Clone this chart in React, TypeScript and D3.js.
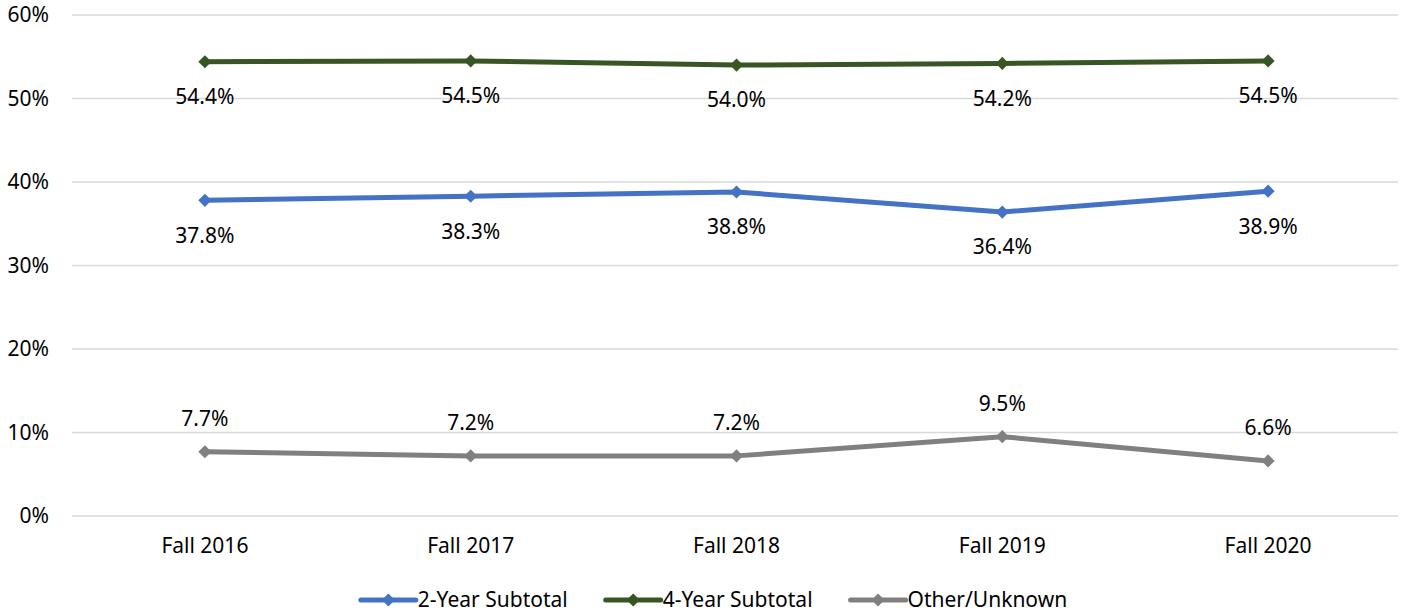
import React, { useRef, useEffect } from "react";
import * as d3 from "d3";

const categories = ["Fall 2016", "Fall 2017", "Fall 2018", "Fall 2019", "Fall 2020"];
const twoYear = [37.8, 38.3, 38.8, 36.4, 38.9];
const fourYear = [54.4, 54.5, 54.0, 54.2, 54.5];
const otherUnknown = [7.7, 7.2, 7.2, 9.5, 6.6];
const yTicks = [0, 10, 20, 30, 40, 50, 60];

const series = [
  { name: "2-Year Subtotal", values: twoYear, color: "#4472C4", labelPos: "below" },
  { name: "4-Year Subtotal", values: fourYear, color: "#375623", labelPos: "below" },
  { name: "Other/Unknown", values: otherUnknown, color: "#808080", labelPos: "above" },
];

const FONT = "'Noto Sans', 'Open Sans', sans-serif";

export default function App() {
  const ref = useRef<SVGSVGElement>(null);

  useEffect(() => {
    if (!ref.current) return;
    const svg = d3.select(ref.current);
    svg.selectAll("*").remove();

    const W = 1405;
    const H = 616;
    const left = 72;
    const right = 1401;
    const top = 15;
    const bottom = 516;

    const x = d3.scaleBand<string>().domain(categories).range([left, right]);
    const cx = (c: string) => x(c)! + x.bandwidth() / 2;
    const y = d3.scaleLinear().domain([0, 60]).range([bottom, top]);

    // gridlines + y labels
    const grid = svg.append("g");
    grid
      .selectAll("line")
      .data(yTicks)
      .enter()
      .append("line")
      .attr("x1", left)
      .attr("x2", right - 3)
      .attr("y1", (d) => y(d))
      .attr("y2", (d) => y(d))
      .attr("stroke", "#D9D9D9")
      .attr("stroke-width", 1.5);
    grid
      .selectAll("text")
      .data(yTicks)
      .enter()
      .append("text")
      .attr("x", 49)
      .attr("y", (d) => y(d))
      .attr("dy", "0.35em")
      .attr("text-anchor", "end")
      .attr("font-family", FONT)
      .attr("font-size", 21)
      .attr("fill", "#000")
      .text((d) => `${d}%`);

    // x labels
    svg
      .append("g")
      .selectAll("text")
      .data(categories)
      .enter()
      .append("text")
      .attr("x", (d) => cx(d))
      .attr("y", 546)
      .attr("dy", "0.35em")
      .attr("text-anchor", "middle")
      .attr("font-family", FONT)
      .attr("font-size", 21)
      .attr("fill", "#000")
      .text((d) => d);

    const line = d3
      .line<number>()
      .x((_, i) => cx(categories[i]))
      .y((d) => y(d));

    const diamond = d3.symbol().type(d3.symbolDiamond2).size(110);

    series.forEach((s) => {
      const g = svg.append("g");
      g.append("path")
        .datum(s.values)
        .attr("d", line)
        .attr("fill", "none")
        .attr("stroke", s.color)
        .attr("stroke-width", 5)
        .attr("stroke-linejoin", "round");
      g.selectAll("path.m")
        .data(s.values)
        .enter()
        .append("path")
        .attr("class", "m")
        .attr("d", diamond)
        .attr("transform", (d, i) => `translate(${cx(categories[i])},${y(d)})`)
        .attr("fill", s.color);
      g.selectAll("text")
        .data(s.values)
        .enter()
        .append("text")
        .attr("x", (_, i) => cx(categories[i]))
        .attr("y", (d) => y(d) + (s.labelPos === "below" ? 35 : -33))
        .attr("dy", "0.35em")
        .attr("text-anchor", "middle")
        .attr("font-family", FONT)
        .attr("font-size", 21)
        .attr("fill", "#000")
        .text((d) => `${d.toFixed(1)}%`);
    });

    // legend
    const legend = svg.append("g");
    const ly = 600;
    const sample = 55;
    const gap = 38;
    const items = series.map((s) => {
      const g = legend.append("g");
      g.append("line")
        .attr("x1", 0)
        .attr("x2", sample)
        .attr("y1", ly)
        .attr("y2", ly)
        .attr("stroke", s.color)
        .attr("stroke-width", 5)
        .attr("stroke-linecap", "round");
      g.append("path")
        .attr("d", diamond)
        .attr("transform", `translate(${sample / 2},${ly})`)
        .attr("fill", s.color);
      const t = g
        .append("text")
        .attr("x", sample + 2)
        .attr("y", ly)
        .attr("dy", "0.35em")
        .attr("font-family", FONT)
        .attr("font-size", 21)
        .attr("fill", "#000")
        .text(s.name);
      const w = sample + 2 + (t.node() as SVGTextElement).getComputedTextLength();
      return { g, w };
    });
    const total = d3.sum(items, (d) => d.w) + gap * (items.length - 1);
    let lx = 714 - total / 2;
    items.forEach((it) => {
      it.g.attr("transform", `translate(${lx},0)`);
      lx += it.w + gap;
    });

    svg.attr("width", W).attr("height", H);
  }, []);

  return (
    <svg
      ref={ref}
      width={1405}
      height={616}
      style={{ position: "absolute", left: 0, top: 0, background: "#fff" }}
    />
  );
}
